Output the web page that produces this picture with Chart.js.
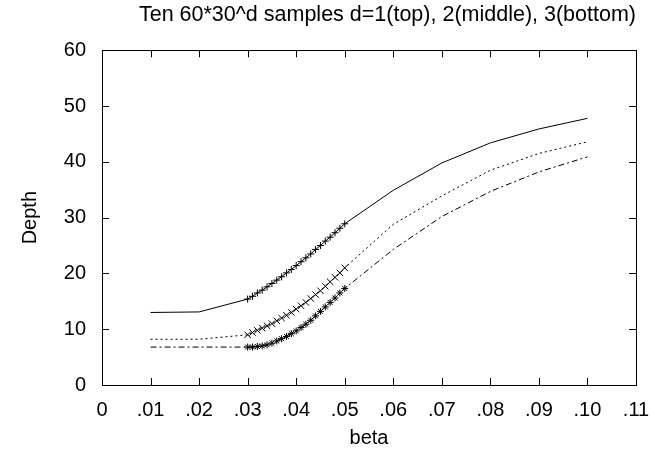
<!DOCTYPE html>
<html>
<head>
<meta charset="utf-8">
<script src="https://cdn.jsdelivr.net/npm/chart.js@4/dist/chart.umd.min.js"></script>
<style>
    html, body { margin: 0; padding: 0; background: #fff; }
</style>
</head>
<body>
<canvas id="depth-chart" width="652" height="455"></canvas>
<script>
// ===================================
// Depth vs beta, three sample sizes
// ===================================

const beta = [0.01, 0.02,
    0.030, 0.031, 0.032, 0.033, 0.034, 0.035, 0.036, 0.037, 0.038, 0.039, 0.040,
    0.041, 0.042, 0.043, 0.044, 0.045, 0.046, 0.047, 0.048, 0.049, 0.050,
    0.06, 0.07, 0.08, 0.09, 0.10];

const depthTop = [13.0, 13.1,
    15.4, 15.9, 16.5, 17.0, 17.6, 18.2, 18.8, 19.4, 20.1, 20.7, 21.4,
    22.1, 22.8, 23.5, 24.3, 25.0, 25.8, 26.5, 27.3, 28.1, 28.9,
    34.9, 39.8, 43.4, 45.9, 47.8];

const depthMiddle = [8.2, 8.2,
    9.0, 9.4, 9.8, 10.2, 10.6, 11.0, 11.5, 12.0, 12.5, 13.0, 13.6,
    14.2, 14.8, 15.5, 16.2, 16.9, 17.7, 18.5, 19.3, 20.1, 21.0,
    28.8, 33.9, 38.5, 41.5, 43.6];

const depthBottom = [6.8, 6.8,
    6.8, 6.8, 6.9, 7.0, 7.2, 7.5, 7.9, 8.3, 8.7, 9.2, 9.7,
    10.3, 10.9, 11.6, 12.4, 13.2, 14.0, 14.8, 15.6, 16.5, 17.3,
    24.3, 30.2, 34.7, 38.2, 40.9];

const xTickValues = [0, 0.01, 0.02, 0.03, 0.04, 0.05, 0.06, 0.07, 0.08, 0.09, 0.10, 0.11];
const xTickLabels = ['0', '.01', '.02', '.03', '.04', '.05', '.06', '.07', '.08', '.09', '.10', '.11'];
const yTickValues = [0, 10, 20, 30, 40, 50, 60];

// fine sampling range gets point markers
const markFrom = 0.03;
const markTo = 0.05;

const FONT = 'Liberation Sans, Arial, Helvetica, sans-serif';

function toPoints(ys) {
    return beta.map((b, i) => ({ x: b, y: ys[i] }));
}

function markerRadius(size) {
    return (ctx) => {
        const b = ctx.raw ? ctx.raw.x : 0;
        return (b >= markFrom - 1e-9 && b <= markTo + 1e-9) ? size : 0;
    };
}

// gnuplot-style frame with inward ticks on all four sides
const framePlugin = {
    id: 'frame',
    afterDraw(chart) {
        const { ctx, chartArea: a, scales } = chart;
        const len = 7;
        ctx.save();
        ctx.strokeStyle = '#000';
        ctx.lineWidth = 1;
        ctx.strokeRect(Math.round(a.left) + 0.5, Math.round(a.top) + 0.5,
            Math.round(a.right - a.left), Math.round(a.bottom - a.top));
        ctx.beginPath();
        xTickValues.forEach(v => {
            const px = Math.round(scales.x.getPixelForValue(v)) + 0.5;
            ctx.moveTo(px, a.bottom); ctx.lineTo(px, a.bottom - len);
            ctx.moveTo(px, a.top); ctx.lineTo(px, a.top + len);
        });
        yTickValues.forEach(v => {
            const py = Math.round(scales.y.getPixelForValue(v)) + 0.5;
            ctx.moveTo(a.left, py); ctx.lineTo(a.left + len, py);
            ctx.moveTo(a.right, py); ctx.lineTo(a.right - len, py);
        });
        ctx.stroke();
        ctx.restore();
    }
};

const ctx = document.getElementById('depth-chart').getContext('2d');

new Chart(ctx, {
    type: 'line',
    data: {
        datasets: [
            {
                label: 'd=1',
                data: toPoints(depthTop),
                borderColor: '#000',
                borderWidth: 1,
                pointStyle: 'cross',
                pointRadius: markerRadius(3.5),
                pointBorderColor: '#000',
                pointBorderWidth: 1
            },
            {
                label: 'd=2',
                data: toPoints(depthMiddle),
                borderColor: '#000',
                borderWidth: 1,
                borderDash: [2, 3],
                pointStyle: 'crossRot',
                pointRadius: markerRadius(4.5),
                pointBorderColor: '#000',
                pointBorderWidth: 1
            },
            {
                label: 'd=3',
                data: toPoints(depthBottom),
                borderColor: '#000',
                borderWidth: 1,
                borderDash: [6, 3, 2, 3],
                pointStyle: 'star',
                pointRadius: markerRadius(3.5),
                pointBorderColor: '#000',
                pointBorderWidth: 1
            }
        ]
    },
    options: {
        responsive: false,
        animation: false,
        devicePixelRatio: 1,
        layout: {
            padding: { left: 0, right: 16, top: 0, bottom: 0 }
        },
        plugins: {
            legend: { display: false },
            tooltip: { enabled: false },
            title: {
                display: true,
                fullSize: false,
                text: 'Ten 60*30^d samples d=1(top), 2(middle), 3(bottom)',
                align: 'end',
                color: '#000',
                font: { family: FONT, size: 21.5, weight: 'normal' },
                padding: { top: 2, bottom: 22.5 }
            }
        },
        scales: {
            x: {
                type: 'linear',
                min: 0,
                max: 0.11,
                afterBuildTicks: (scale) => {
                    scale.ticks = xTickValues.map(v => ({ value: v }));
                },
                afterFit: (scale) => {
                    scale.height = 70;
                    scale.paddingLeft = 0;
                    scale.paddingRight = 0;
                },
                grid: { display: false, drawTicks: false },
                border: { display: false },
                ticks: {
                    color: '#000',
                    padding: 13,
                    maxRotation: 0,
                    autoSkip: false,
                    font: { family: FONT, size: 20 },
                    callback: (value, index) => xTickLabels[index]
                },
                title: {
                    display: true,
                    text: 'beta',
                    color: '#000',
                    font: { family: FONT, size: 20 },
                    padding: { top: 0, bottom: 5 }
                }
            },
            y: {
                type: 'linear',
                min: 0,
                max: 60,
                afterBuildTicks: (scale) => {
                    scale.ticks = yTickValues.map(v => ({ value: v }));
                },
                afterFit: (scale) => { scale.width = 102; },
                grid: { display: false, drawTicks: false },
                border: { display: false },
                ticks: {
                    color: '#000',
                    padding: 16,
                    autoSkip: false,
                    font: { family: FONT, size: 20 }
                },
                title: {
                    display: true,
                    text: 'Depth',
                    color: '#000',
                    font: { family: FONT, size: 20 },
                    padding: { top: 18, bottom: 0 }
                }
            }
        },
        elements: {
            line: { tension: 0, fill: false }
        }
    },
    plugins: [framePlugin]
});
</script>
</body>
</html>
